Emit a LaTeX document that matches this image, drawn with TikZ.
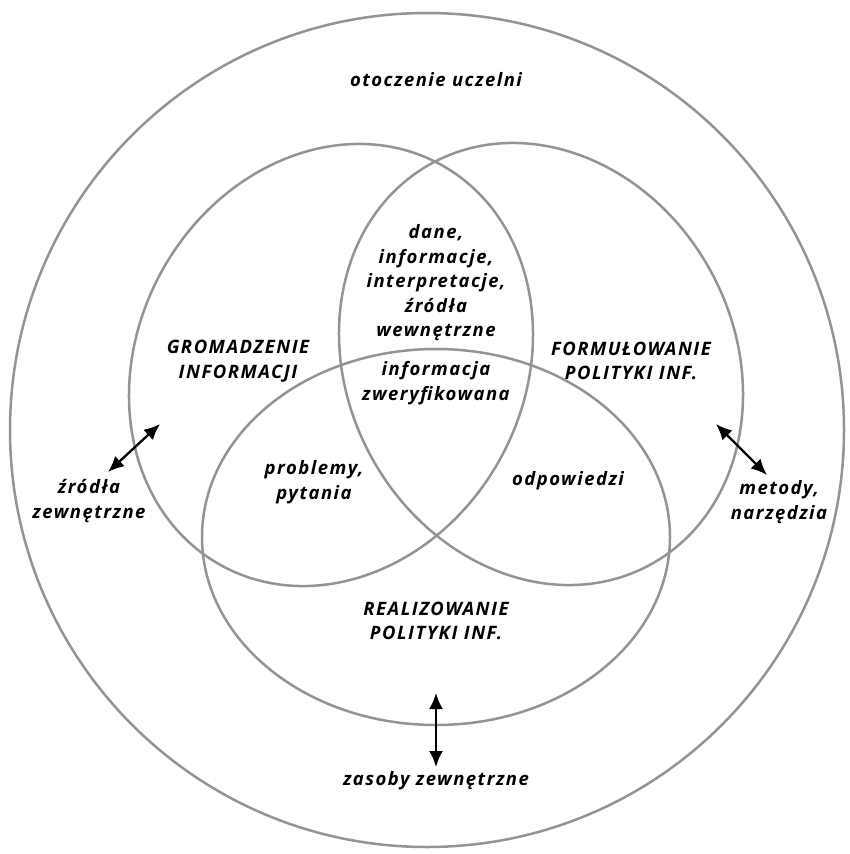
\documentclass[tikz,border=0pt]{standalone}
\usepackage{fontspec}
\setmainfont{Open Sans}[LetterSpace=8]
\usetikzlibrary{arrows.meta,positioning}

\begin{document}
\begin{tikzpicture}[
    x=1pt, y=-1pt,
    inner sep=0pt, %text sits right on the coordinates
    ring/.style={draw=black!42,line width=2.5pt},
    lbl/.style={align=center,font=\fontsize{18.5}{24.5}\selectfont\bfseries\itshape},
    link/.style={line width=2.3pt,{Latex[length=16pt,width=14pt]}-{Latex[length=16pt,width=14pt]}},
    ]
    \useasboundingbox (0,0) rectangle (849,854);

    %rings
    \draw[ring] (427,430) circle [radius=417pt];
    \draw[ring] (331,365) ellipse [x radius=228.5pt, y radius=193.5pt, rotate=61.5];
    \draw[ring] (541,364) ellipse [x radius=228.5pt, y radius=193.5pt, rotate=-61.5];
    \draw[ring] (436,537) ellipse [x radius=234pt, y radius=188pt];

    %area names
    \node[lbl] (otoczenie) at (436,80) {otoczenie uczelni};
    \node[lbl] (gromadz) at (238,361) {GROMADZENIE\\INFORMACJI};
    \node[lbl] (formul) at (631,361) {FORMUŁOWANIE\\POLITYKI INF.};
    \node[lbl] (realiz) at (436,621) {REALIZOWANIE\\POLITYKI INF.};

    %overlaps
    \node[lbl] (dane) at (436,283) {dane,\\informacje,\\interpretacje,\\źródła\\wewnętrzne};
    \node[lbl] (weryf) at (436,383) {informacja\\zweryfikowana};
    \node[lbl] (problemy) at (314,482) {problemy,\\pytania};
    \node[lbl] (odpow) at (568,481) {odpowiedzi};

    %outside
    \node[lbl] (zrodla) at (89,501) {źródła\\zewnętrzne};
    \node[lbl] (metody) at (779,502) {metody,\\narzędzia};
    \node[lbl] (zasoby) at (436,781) {zasoby zewnętrzne};

    %arrows
    \coordinate (zrodlaA) at (108,472);
    \coordinate (zrodlaB) at (160,424);
    \coordinate (metodyA) at (716,424);
    \coordinate (metodyB) at (767,475);
    \coordinate (zasobyA) at (436,693);
    \coordinate (zasobyB) at (436,767);
    \draw[link] (zrodlaA) -- (zrodlaB);
    \draw[link] (metodyA) -- (metodyB);
    \draw[link] (zasobyA) -- (zasobyB);

\end{tikzpicture}
\end{document}
